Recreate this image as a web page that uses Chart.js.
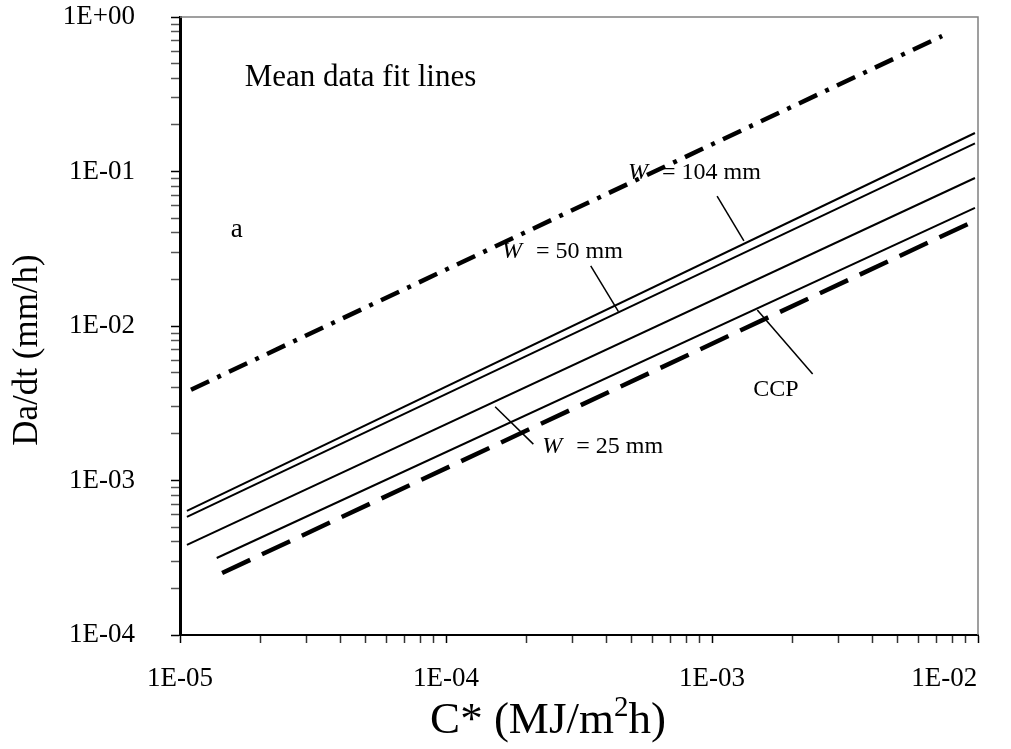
<!DOCTYPE html>
<html><head><meta charset="utf-8">
<script src="https://cdn.jsdelivr.net/npm/chart.js@4.4.0/dist/chart.umd.min.js"></script>
<style>html,body{margin:0;padding:0;background:#fff;}</style>
</head><body>
<canvas id="c" width="1011" height="749"></canvas>
<script>
// ---- data (fit lines, two end points each) ----
const seriesNames = ['W = 104 mm', 'W = 50 mm', 'unlabelled', 'W = 25 mm', 'CCP', 'upper'];
const xW104 = [1.062e-5, 9.74e-3];  const yW104 = [6.35e-4, 0.1775];
const xW50  = [1.062e-5, 9.74e-3];  const yW50  = [5.81e-4, 0.152];
const xMid  = [1.062e-5, 9.74e-3];  const yMid  = [3.83e-4, 0.0908];
const xW25  = [1.374e-5, 9.74e-3];  const yW25  = [3.15e-4, 0.0582];
const xCCP  = [1.44e-5, 9.33e-3];   const yCCP  = [2.52e-4, 0.0464];
const xTop  = [1.10e-5, 7.33e-3];   const yTop  = [3.87e-3, 0.753];

// tick values / labels
const xTickValues = [1e-5, 1e-4, 1e-3, 1e-2];
const xTickLabels = ['1E-05', '1E-04', '1E-03', '1E-02'];
const yTickValues = [1e-4, 1e-3, 1e-2, 1e-1, 1];
const yTickLabels = ['1E-04', '1E-03', '1E-02', '1E-01', '1E+00'];

// axis titles
const xTitleParts = ['C* (MJ/m', '2', 'h)'];
const yTitleText = 'Da/dt (mm/h)';

// annotations (data coordinates)
const wLabelText = ['= 104 mm', '= 50 mm', '= 25 mm'];
const wLabelX = [4.83e-4, 1.625e-4, 2.30e-4];
const wLabelY = [0.0977, 0.0301, 1.65e-3];
const leaderX1 = [1.045e-3, 3.50e-4, 1.53e-4, 1.48e-3];
const leaderY1 = [0.0694, 0.0245, 3.0e-3, 0.0127];
const leaderX2 = [1.318e-3, 4.45e-4, 2.13e-4, 2.39e-3];
const leaderY2 = [0.0355, 0.01238, 1.72e-3, 4.89e-3];
const ccpLabel = {text: 'CCP', x: 1.43e-3, y: 3.85e-3};
const meanLabel = {text: 'Mean data fit lines', x: 1.75e-5, y: 0.403};
const panelLabel = {text: 'a', x: 1.55e-5, y: 0.042};

function pts(xs, ys){ return xs.map((x,i)=>({x:x, y:ys[i]})); }
function minorTicks(vals){
  const out=[];
  for(let i=0;i<vals.length;i++){
    out.push(vals[i]);
    if(i<vals.length-1) for(let k=2;k<=9;k++) out.push(vals[i]*k);
  }
  return out;
}
function labelFor(v, vals, labels){
  for(let i=0;i<vals.length;i++) if(Math.abs(Math.log10(v)-Math.log10(vals[i]))<1e-6) return labels[i];
  return '';
}
function isMajor(v, vals){ return labelFor(v, vals, vals.map(()=>'x'))!==''; }

const SERIF = '"Liberation Serif", "Times New Roman", serif';

const annot = {
  id:'annot',
  afterDatasetsDraw(chart){
    const {ctx, chartArea:a, scales:{x, y}} = chart;
    ctx.save();
    // top / right frame
    ctx.strokeStyle='#808080'; ctx.lineWidth=1.5;
    ctx.beginPath(); ctx.moveTo(a.left, a.top); ctx.lineTo(a.right, a.top); ctx.lineTo(a.right, a.bottom); ctx.stroke();
    // leaders
    ctx.strokeStyle='#000'; ctx.lineWidth=1.5;
    for(let i=0;i<leaderX1.length;i++){
      ctx.beginPath();
      ctx.moveTo(x.getPixelForValue(leaderX1[i]), y.getPixelForValue(leaderY1[i]));
      ctx.lineTo(x.getPixelForValue(leaderX2[i]), y.getPixelForValue(leaderY2[i]));
      ctx.stroke();
    }
    ctx.fillStyle='#000'; ctx.textBaseline='middle'; ctx.textAlign='left';
    for(let i=0;i<wLabelText.length;i++){
      const px=x.getPixelForValue(wLabelX[i]), py=y.getPixelForValue(wLabelY[i]);
      ctx.font='italic 24px '+SERIF; ctx.fillText('W', px, py);
      ctx.font='24px '+SERIF; ctx.fillText(wLabelText[i], px+34, py);
    }
    ctx.font='24px '+SERIF;
    ctx.fillText(ccpLabel.text, x.getPixelForValue(ccpLabel.x), y.getPixelForValue(ccpLabel.y));
    ctx.font='31px '+SERIF;
    ctx.fillText(meanLabel.text, x.getPixelForValue(meanLabel.x), y.getPixelForValue(meanLabel.y));
    ctx.font='27px '+SERIF;
    ctx.fillText(panelLabel.text, x.getPixelForValue(panelLabel.x), y.getPixelForValue(panelLabel.y));

    // x axis title with superscript
    const big='45px '+SERIF, small='29px '+SERIF;
    ctx.textBaseline='alphabetic';
    ctx.font=big; const w0=ctx.measureText(xTitleParts[0]).width, w2=ctx.measureText(xTitleParts[2]).width;
    ctx.font=small; const w1=ctx.measureText(xTitleParts[1]).width;
    const tw=w0+w1+w2, cx=(a.left+a.right)/2-31, base=733;
    let tx=cx-tw/2;
    ctx.font=big; ctx.fillText(xTitleParts[0], tx, base); tx+=w0;
    ctx.font=small; ctx.fillText(xTitleParts[1], tx, base-17); tx+=w1;
    ctx.font=big; ctx.fillText(xTitleParts[2], tx, base);

    // y axis title
    ctx.save();
    ctx.translate(28, (a.top+a.bottom)/2+24);
    ctx.rotate(-Math.PI/2);
    ctx.font='35px '+SERIF; ctx.textAlign='center'; ctx.textBaseline='middle';
    ctx.fillText(yTitleText, 0, 0);
    ctx.restore();
    ctx.restore();
  }
};

function ds(name, xs, ys, width, dash){
  return {label:name, data:pts(xs,ys), showLine:true, pointRadius:0, borderColor:'#000',
          backgroundColor:'#000', borderWidth:width, borderDash:dash, borderCapStyle:'butt', fill:false};
}

// last x label is kept inside the frame (as in the original): pad it on the right
function xLabel(v){
  const l = labelFor(v, xTickValues, xTickLabels);
  return l === xTickLabels[xTickLabels.length-1] ? l + '\u00A0'.repeat(10) : l;
}

new Chart(document.getElementById('c'), {
  type:'scatter',
  data:{datasets:[
    ds(seriesNames[0], xW104, yW104, 2, []),
    ds(seriesNames[1], xW50, yW50, 2, []),
    ds(seriesNames[2], xMid, yMid, 2, []),
    ds(seriesNames[3], xW25, yW25, 2, []),
    ds(seriesNames[4], xCCP, yCCP, 4.5, [31,13]),
    ds(seriesNames[5], xTop, yTop, 4.5, [20,9,4,9]),
  ]},
  options:{
    responsive:false, animation:false, devicePixelRatio:1,
    layout:{padding:{left:0, right:33, top:17, bottom:0}},
    plugins:{legend:{display:false}, tooltip:{enabled:false}},
    scales:{
      x:{type:'logarithmic', min:1e-5, max:1e-2, position:'bottom',
        afterBuildTicks:s=>{ s.ticks = minorTicks(xTickValues).map(v=>({value:v})); },
        afterFit:s=>{ s.height=114; s.paddingLeft=0; s.paddingRight=0; s.paddingTop=0; s.paddingBottom=0; },
        ticks:{autoSkip:false, maxRotation:0, padding:20, color:'#000',
          font:{family:SERIF, size:27},
          callback:v=>xLabel(v)},
        grid:{display:true, drawOnChartArea:false, drawTicks:true, tickLength:8,
          tickColor:c=>isMajor(c.tick.value, xTickValues)?'#000':'#333', tickWidth:1.5},
        border:{display:true, color:'#000', width:2},
        title:{display:false}
      },
      y:{type:'logarithmic', min:1e-4, max:1, position:'left',
        afterBuildTicks:s=>{ s.ticks = minorTicks(yTickValues).map(v=>({value:v})); },
        afterFit:s=>{ s.width=180; s.paddingLeft=0; s.paddingRight=0; s.paddingTop=0; s.paddingBottom=0; },
        ticks:{autoSkip:false, padding:36, color:'#000',
          font:{family:SERIF, size:27},
          callback:v=>labelFor(v, yTickValues, yTickLabels)},
        grid:{display:true, drawOnChartArea:false, drawTicks:true, tickLength:9,
          tickColor:c=>isMajor(c.tick.value, yTickValues)?'#000':'#555', tickWidth:1.5},
        border:{display:true, color:'#000', width:3},
        title:{display:false}
      }
    }
  },
  plugins:[annot]
});
</script>
</body></html>
